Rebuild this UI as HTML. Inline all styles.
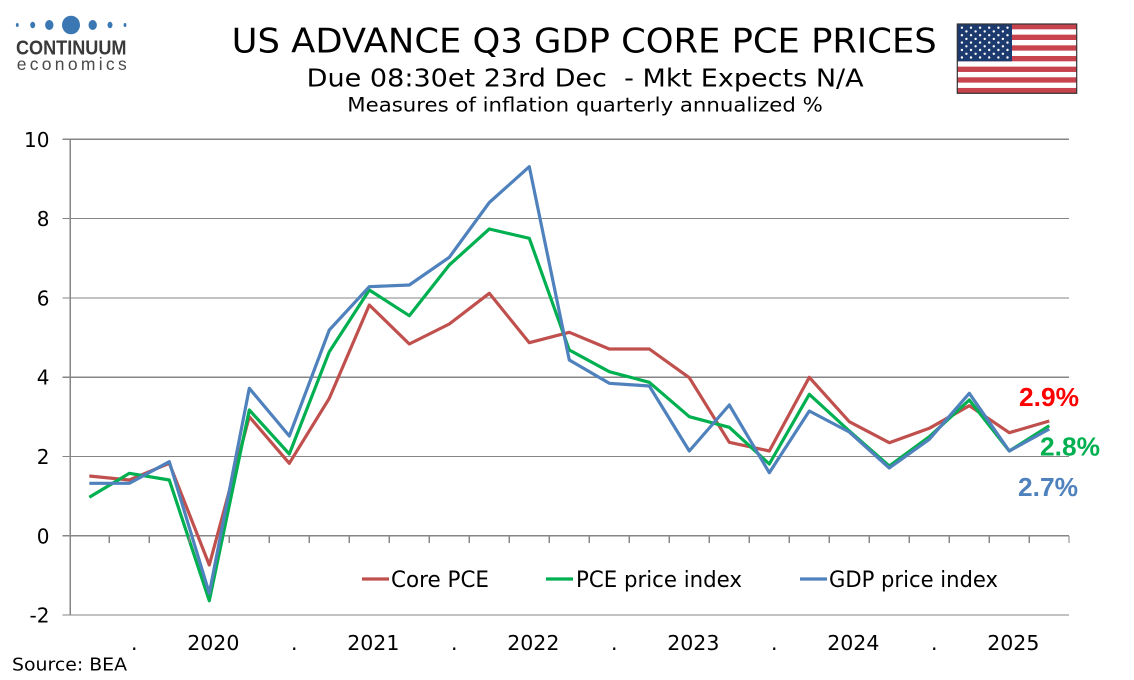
<!DOCTYPE html>
<html>
<head>
<meta charset="utf-8">
<style>
  html,body{margin:0;padding:0;background:#fff;}
  body{width:1134px;height:680px;overflow:hidden;}
  svg{display:block;}
  .v{font-family:"DejaVu Sans","Liberation Sans",sans-serif;fill:#000;}
</style>
</head>
<body>
<svg width="1134" height="680" viewBox="0 0 1134 680" xmlns="http://www.w3.org/2000/svg">
  <rect x="0" y="0" width="1134" height="680" fill="#fff"/>

  <!-- Logo -->
  <g fill="#3b78b3">
    <ellipse cx="17.3" cy="25" rx="1.4" ry="2"/>
    <ellipse cx="32.7" cy="25" rx="2.5" ry="3.2"/>
    <ellipse cx="49.3" cy="25" rx="4.2" ry="5"/>
    <ellipse cx="71" cy="25" rx="9" ry="9.3"/>
    <ellipse cx="92.7" cy="25" rx="4.2" ry="5"/>
    <ellipse cx="110" cy="25" rx="2.5" ry="3.2"/>
    <ellipse cx="125" cy="25" rx="1.4" ry="2"/>
  </g>
  <text x="16" y="54.3" font-family="Liberation Sans, sans-serif" font-weight="bold" font-size="20" fill="#3a3a3a" textLength="110.5" lengthAdjust="spacingAndGlyphs">CONTINUUM</text>
  <text x="16.7" y="70" font-family="Liberation Sans, sans-serif" font-size="17.5" fill="#4a4a4a" textLength="110" lengthAdjust="spacing">economics</text>

  <!-- Titles -->
  <text class="v" x="231.7" y="52.7" font-size="33.5" textLength="705" lengthAdjust="spacingAndGlyphs">US ADVANCE Q3 GDP CORE PCE PRICES</text>
  <text class="v" x="306.7" y="86.7" font-size="25" textLength="557" lengthAdjust="spacingAndGlyphs">Due 08:30et 23rd Dec&#160; - Mkt Expects N/A</text>
  <text class="v" x="347.3" y="111.7" font-size="19.5" textLength="475.5" lengthAdjust="spacingAndGlyphs">Measures of inflation quarterly annualized %</text>

  <!-- Flag -->
  <g>
    <rect x="957.3" y="24" width="119.4" height="69.3" fill="#fff"/>
    <g fill="#c7434d">
      <rect x="957.3" y="24" width="119.4" height="5.33"/>
      <rect x="957.3" y="34.66" width="119.4" height="5.33"/>
      <rect x="957.3" y="45.32" width="119.4" height="5.33"/>
      <rect x="957.3" y="55.98" width="119.4" height="5.33"/>
      <rect x="957.3" y="66.64" width="119.4" height="5.33"/>
      <rect x="957.3" y="77.3" width="119.4" height="5.33"/>
      <rect x="957.3" y="87.96" width="119.4" height="5.33"/>
    </g>
    <rect x="957.3" y="24" width="54.7" height="37.3" fill="#1d3a6e"/>
    <rect x="957.3" y="24" width="119.4" height="69.3" fill="none" stroke="#333" stroke-width="1.2"/>
  </g>

  <!-- Gridlines -->
  <g stroke="#868686" stroke-width="1.2" shape-rendering="crispEdges">
    <line x1="62.5" y1="139.3" x2="1069" y2="139.3"/>
    <line x1="62.5" y1="218.6" x2="1069" y2="218.6"/>
    <line x1="62.5" y1="297.9" x2="1069" y2="297.9"/>
    <line x1="62.5" y1="377.2" x2="1069" y2="377.2"/>
    <line x1="62.5" y1="456.5" x2="1069" y2="456.5"/>
    <line x1="62.5" y1="535.8" x2="1069" y2="535.8"/>
    <line x1="62.5" y1="615.1" x2="1069" y2="615.1"/>
    <line x1="70.3" y1="139.3" x2="70.3" y2="615.1"/>
  </g>

  <!-- Y labels -->
  <g class="v" font-size="20" text-anchor="end">
    <text x="49.5" y="146.8">10</text>
    <text x="49.5" y="226.1">8</text>
    <text x="49.5" y="305.4">6</text>
    <text x="49.5" y="384.7">4</text>
    <text x="49.5" y="464">2</text>
    <text x="49.5" y="543.3">0</text>
    <text x="49.5" y="622.6">-2</text>
  </g>

  <!-- X labels -->
  <g class="v" font-size="20.5" text-anchor="middle">
    <text x="134.3" y="650">.</text>
    <text x="213.3" y="650">2020</text>
    <text x="294.3" y="650">.</text>
    <text x="373.3" y="650">2021</text>
    <text x="454.3" y="650">.</text>
    <text x="533.3" y="650">2022</text>
    <text x="614.3" y="650">.</text>
    <text x="693.3" y="650">2023</text>
    <text x="774.3" y="650">.</text>
    <text x="853.3" y="650">2024</text>
    <text x="934.3" y="650">.</text>
    <text x="1013.3" y="650">2025</text>
  </g>

  <!-- Series -->
  <g fill="none" stroke-width="3.2" stroke-linejoin="round">
    <polyline stroke="#c0504d" points="89.3,476 129.3,480 169.3,463.3 209.3,565 249.3,416.7 289.3,463.3 329.3,398.3 369.3,305 409.3,344 449.3,324 489.3,293.3 529.3,342.7 569.3,332.3 609.3,349 649.3,349 689.3,377.7 729.3,442.3 769.3,451 809.3,377.3 849.3,421.7 889.3,442.7 929.3,428.3 969.3,405.7 1009.3,432.7 1049.3,421"/>
    <polyline stroke="#00b050" points="89.3,497.3 129.3,473.3 169.3,480 209.3,600.7 249.3,410 289.3,454 329.3,351.7 369.3,290 409.3,315.7 449.3,265 489.3,229 529.3,238.3 569.3,350 609.3,371.7 649.3,382.3 689.3,416.7 729.3,427.3 769.3,464 809.3,394.3 849.3,431 889.3,466 929.3,436.7 969.3,400 1009.3,451 1049.3,425.7"/>
    <polyline stroke="#4f81bd" points="89.3,483.3 129.3,483.3 169.3,461.7 209.3,593.3 249.3,388.3 289.3,436 329.3,330 369.3,286.7 409.3,285 449.3,257.3 489.3,202.5 529.3,166.7 569.3,360 609.3,383.3 649.3,386 689.3,451 729.3,405 769.3,472.7 809.3,411 849.3,432 889.3,468 929.3,439.3 969.3,393.3 1009.3,451 1049.3,429"/>
  </g>

  <!-- Legend -->
  <g stroke-width="3.2">
    <line x1="362" y1="579" x2="389" y2="579" stroke="#c0504d"/>
    <line x1="546" y1="579" x2="573" y2="579" stroke="#00b050"/>
    <line x1="800" y1="579" x2="827" y2="579" stroke="#4f81bd"/>
  </g>
  <g class="v" font-size="22">
    <text x="391" y="587" textLength="98" lengthAdjust="spacingAndGlyphs">Core PCE</text>
    <text x="576" y="587" textLength="166" lengthAdjust="spacingAndGlyphs">PCE price index</text>
    <text x="829" y="587" textLength="169" lengthAdjust="spacingAndGlyphs">GDP price index</text>
  </g>

  <!-- End labels -->
  <g font-family="Liberation Sans, Arial, sans-serif" font-weight="bold" font-size="26">
    <text x="1019" y="406" fill="#ff0000" textLength="60" lengthAdjust="spacingAndGlyphs">2.9%</text>
    <text x="1040" y="455.5" fill="#00b050" textLength="60" lengthAdjust="spacingAndGlyphs">2.8%</text>
    <text x="1018" y="496" fill="#4f81bd" textLength="60" lengthAdjust="spacingAndGlyphs">2.7%</text>
  </g>

  <!-- Source -->
  <text class="v" x="12" y="670.5" font-size="18" textLength="115" lengthAdjust="spacingAndGlyphs">Source: BEA</text>

  <!-- Stars -->
  <g fill="#fff">
    <circle cx="961.9" cy="27.7" r="1.2"/><circle cx="971" cy="27.7" r="1.2"/><circle cx="980.1" cy="27.7" r="1.2"/><circle cx="989.2" cy="27.7" r="1.2"/><circle cx="998.4" cy="27.7" r="1.2"/><circle cx="1007.5" cy="27.7" r="1.2"/>
    <circle cx="966.4" cy="31.4" r="1.2"/><circle cx="975.6" cy="31.4" r="1.2"/><circle cx="984.7" cy="31.4" r="1.2"/><circle cx="993.8" cy="31.4" r="1.2"/><circle cx="1002.9" cy="31.4" r="1.2"/>
    <circle cx="961.9" cy="35.2" r="1.2"/><circle cx="971" cy="35.2" r="1.2"/><circle cx="980.1" cy="35.2" r="1.2"/><circle cx="989.2" cy="35.2" r="1.2"/><circle cx="998.4" cy="35.2" r="1.2"/><circle cx="1007.5" cy="35.2" r="1.2"/>
    <circle cx="966.4" cy="38.9" r="1.2"/><circle cx="975.6" cy="38.9" r="1.2"/><circle cx="984.7" cy="38.9" r="1.2"/><circle cx="993.8" cy="38.9" r="1.2"/><circle cx="1002.9" cy="38.9" r="1.2"/>
    <circle cx="961.9" cy="42.6" r="1.2"/><circle cx="971" cy="42.6" r="1.2"/><circle cx="980.1" cy="42.6" r="1.2"/><circle cx="989.2" cy="42.6" r="1.2"/><circle cx="998.4" cy="42.6" r="1.2"/><circle cx="1007.5" cy="42.6" r="1.2"/>
    <circle cx="966.4" cy="46.3" r="1.2"/><circle cx="975.6" cy="46.3" r="1.2"/><circle cx="984.7" cy="46.3" r="1.2"/><circle cx="993.8" cy="46.3" r="1.2"/><circle cx="1002.9" cy="46.3" r="1.2"/>
    <circle cx="961.9" cy="50" r="1.2"/><circle cx="971" cy="50" r="1.2"/><circle cx="980.1" cy="50" r="1.2"/><circle cx="989.2" cy="50" r="1.2"/><circle cx="998.4" cy="50" r="1.2"/><circle cx="1007.5" cy="50" r="1.2"/>
    <circle cx="966.4" cy="53.8" r="1.2"/><circle cx="975.6" cy="53.8" r="1.2"/><circle cx="984.7" cy="53.8" r="1.2"/><circle cx="993.8" cy="53.8" r="1.2"/><circle cx="1002.9" cy="53.8" r="1.2"/>
    <circle cx="961.9" cy="57.5" r="1.2"/><circle cx="971" cy="57.5" r="1.2"/><circle cx="980.1" cy="57.5" r="1.2"/><circle cx="989.2" cy="57.5" r="1.2"/><circle cx="998.4" cy="57.5" r="1.2"/><circle cx="1007.5" cy="57.5" r="1.2"/>
  </g>

  <!-- Category ticks -->
  <g stroke="#868686" stroke-width="1.2" shape-rendering="crispEdges">
    <line x1="109.3" y1="535.8" x2="109.3" y2="543"/><line x1="149.3" y1="535.8" x2="149.3" y2="543"/>
    <line x1="189.3" y1="535.8" x2="189.3" y2="543"/><line x1="229.3" y1="535.8" x2="229.3" y2="543"/>
    <line x1="269.3" y1="535.8" x2="269.3" y2="543"/><line x1="309.3" y1="535.8" x2="309.3" y2="543"/>
    <line x1="349.3" y1="535.8" x2="349.3" y2="543"/><line x1="389.3" y1="535.8" x2="389.3" y2="543"/>
    <line x1="429.3" y1="535.8" x2="429.3" y2="543"/><line x1="469.3" y1="535.8" x2="469.3" y2="543"/>
    <line x1="509.3" y1="535.8" x2="509.3" y2="543"/><line x1="549.3" y1="535.8" x2="549.3" y2="543"/>
    <line x1="589.3" y1="535.8" x2="589.3" y2="543"/><line x1="629.3" y1="535.8" x2="629.3" y2="543"/>
    <line x1="669.3" y1="535.8" x2="669.3" y2="543"/><line x1="709.3" y1="535.8" x2="709.3" y2="543"/>
    <line x1="749.3" y1="535.8" x2="749.3" y2="543"/><line x1="789.3" y1="535.8" x2="789.3" y2="543"/>
    <line x1="829.3" y1="535.8" x2="829.3" y2="543"/><line x1="869.3" y1="535.8" x2="869.3" y2="543"/>
    <line x1="909.3" y1="535.8" x2="909.3" y2="543"/><line x1="949.3" y1="535.8" x2="949.3" y2="543"/>
    <line x1="989.3" y1="535.8" x2="989.3" y2="543"/><line x1="1029.3" y1="535.8" x2="1029.3" y2="543"/>
    <line x1="1069" y1="535.8" x2="1069" y2="543"/>
  </g>
</svg>
</body>
</html>
